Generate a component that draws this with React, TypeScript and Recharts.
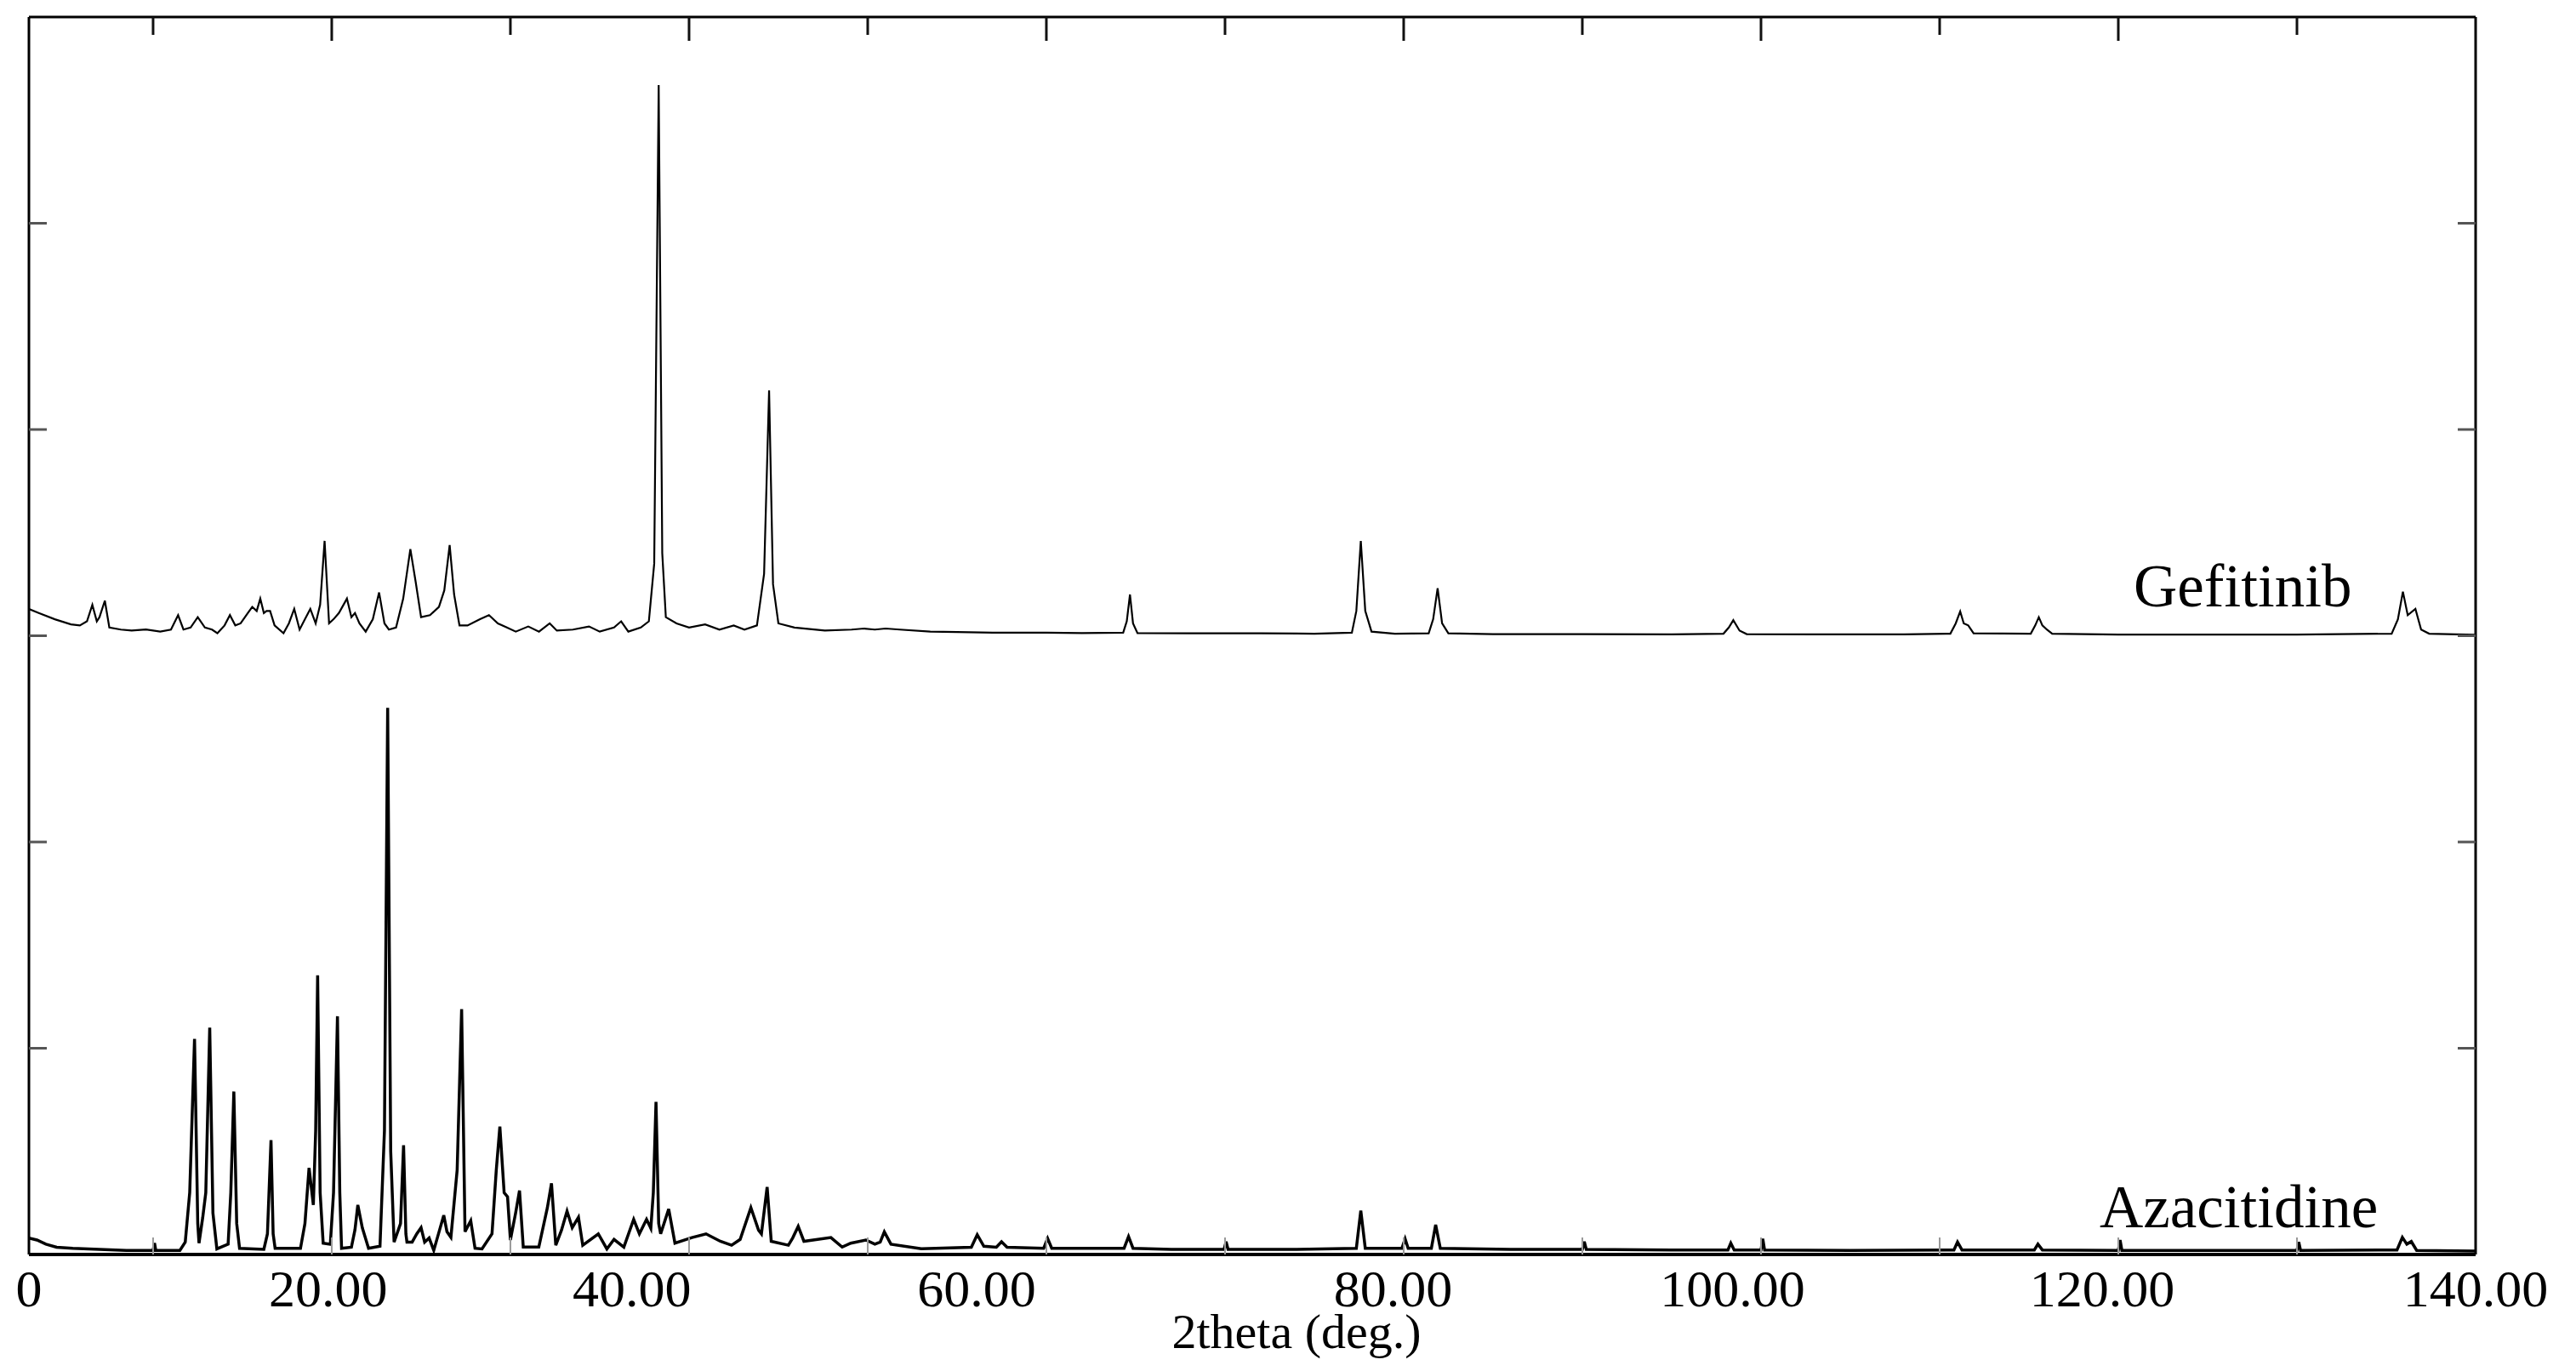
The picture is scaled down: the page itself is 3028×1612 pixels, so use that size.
import React from 'react';
import { LineChart, Line, XAxis, YAxis, ReferenceDot } from 'recharts';

// ---- data (2theta in deg, intensity in axis units) ----
const X_MIN = 3.05;
const X_MAX = 140;
const GEFITINIB_OFFSET = 3;

const gefitinibPattern: [number, number][] = [
  [3.05, 0.13], [3.6, 0.11], [4.5, 0.08], [5.4, 0.055], [5.9, 0.05], [6.3, 0.07], [6.6, 0.15], [6.85, 0.07],
  [7.0, 0.09], [7.3, 0.17], [7.55, 0.04], [8.2, 0.03], [8.8, 0.025], [9.6, 0.03], [10.4, 0.02], [11.0, 0.03],
  [11.4, 0.1], [11.7, 0.03], [12.1, 0.04], [12.5, 0.09], [12.9, 0.04], [13.3, 0.03], [13.6, 0.012], [14.0, 0.05],
  [14.3, 0.1], [14.6, 0.05], [14.9, 0.06], [15.3, 0.11], [15.55, 0.14], [15.8, 0.12], [16.0, 0.18], [16.2, 0.11],
  [16.35, 0.12], [16.55, 0.12], [16.8, 0.05], [17.3, 0.012], [17.6, 0.06], [17.9, 0.13], [18.2, 0.03], [18.5, 0.08],
  [18.8, 0.13], [19.1, 0.06], [19.35, 0.15], [19.6, 0.46], [19.85, 0.06], [20.1, 0.08], [20.4, 0.11], [20.85, 0.18],
  [21.1, 0.09], [21.3, 0.11], [21.55, 0.06], [21.9, 0.02], [22.3, 0.08], [22.65, 0.21], [22.95, 0.06], [23.2, 0.03],
  [23.6, 0.04], [24.0, 0.18], [24.4, 0.42], [24.7, 0.26], [25.0, 0.09], [25.5, 0.1], [26.0, 0.14], [26.3, 0.22],
  [26.6, 0.44], [26.85, 0.2], [27.15, 0.05], [27.6, 0.05], [28.3, 0.08], [28.8, 0.1], [29.3, 0.06], [29.8, 0.04],
  [30.3, 0.02], [31.0, 0.045], [31.6, 0.02], [32.2, 0.06], [32.6, 0.025], [33.5, 0.03], [34.4, 0.045], [35.0, 0.02],
  [35.8, 0.04], [36.2, 0.07], [36.6, 0.02], [37.3, 0.04], [37.75, 0.07], [38.05, 0.35], [38.3, 2.67], [38.5, 0.4],
  [38.7, 0.09], [39.3, 0.06], [40.0, 0.04], [40.9, 0.055], [41.7, 0.03], [42.5, 0.05], [43.1, 0.03], [43.8, 0.05],
  [44.2, 0.3], [44.48, 1.19], [44.7, 0.25], [45.0, 0.06], [45.9, 0.04], [47.6, 0.025], [49.1, 0.03], [49.8, 0.035],
  [50.4, 0.03], [51.0, 0.035], [51.8, 0.03], [53.5, 0.02], [55.0, 0.018], [57.0, 0.015], [60.0, 0.015], [62.0, 0.013],
  [64.3, 0.015], [64.5, 0.07], [64.68, 0.2], [64.85, 0.06], [65.1, 0.013], [68.0, 0.012], [72.0, 0.012], [75.0, 0.01],
  [77.1, 0.015], [77.35, 0.12], [77.6, 0.46], [77.85, 0.12], [78.2, 0.02], [79.5, 0.01], [81.4, 0.012], [81.65, 0.08],
  [81.9, 0.23], [82.15, 0.06], [82.5, 0.012], [85.0, 0.008], [90.0, 0.008], [95.0, 0.007], [97.9, 0.01], [98.2, 0.04],
  [98.45, 0.076], [98.8, 0.025], [99.2, 0.008], [103.0, 0.007], [108.0, 0.007], [110.6, 0.01], [110.9, 0.06],
  [111.15, 0.118], [111.35, 0.06], [111.6, 0.05], [111.9, 0.012], [115.1, 0.01], [115.35, 0.05], [115.55, 0.09],
  [115.75, 0.05], [116.0, 0.03], [116.3, 0.01], [120.0, 0.006], [125.0, 0.006], [130.0, 0.006], [135.3, 0.01],
  [135.65, 0.08], [135.93, 0.214], [136.2, 0.1], [136.63, 0.13], [136.95, 0.03], [137.4, 0.01], [140.0, 0.005],
];

const azacitidinePattern: [number, number][] = [
  [3.05, 0.08], [3.5, 0.07], [4.0, 0.05], [4.6, 0.035], [5.5, 0.03], [7.0, 0.025], [8.5, 0.02], [10.0, 0.02],
  [10.08, 0.055], [10.15, 0.02], [11.5, 0.02], [11.8, 0.06], [12.05, 0.3], [12.32, 1.045], [12.5, 0.15], [12.57, 0.055],
  [12.78, 0.18], [12.95, 0.3], [13.17, 1.1], [13.35, 0.2], [13.57, 0.027], [14.2, 0.05], [14.35, 0.3], [14.52, 0.79],
  [14.68, 0.15], [14.84, 0.03], [16.2, 0.025], [16.4, 0.1], [16.6, 0.554], [16.72, 0.1], [16.83, 0.03], [18.25, 0.03],
  [18.5, 0.15], [18.73, 0.42], [18.97, 0.24], [19.1, 0.6], [19.21, 1.354], [19.35, 0.3], [19.52, 0.055], [19.92, 0.05],
  [20.1, 0.3], [20.32, 1.155], [20.45, 0.3], [20.55, 0.03], [21.1, 0.035], [21.3, 0.12], [21.46, 0.24], [21.71, 0.13],
  [22.06, 0.03], [22.7, 0.04], [22.95, 0.6], [23.13, 2.65], [23.3, 0.5], [23.49, 0.06], [23.85, 0.15], [24.02, 0.53],
  [24.15, 0.1], [24.21, 0.06], [24.5, 0.06], [24.76, 0.1], [25.0, 0.13], [25.2, 0.06], [25.45, 0.08], [25.71, 0.02],
  [26.03, 0.117], [26.27, 0.19], [26.45, 0.11], [26.67, 0.083], [27.02, 0.41], [27.27, 1.19], [27.46, 0.11],
  [27.78, 0.164], [28.02, 0.03], [28.41, 0.027], [28.97, 0.1], [29.21, 0.41], [29.41, 0.62], [29.65, 0.3], [29.84, 0.28],
  [30.0, 0.07], [30.29, 0.2], [30.51, 0.31], [30.72, 0.036], [31.59, 0.036], [32.07, 0.227], [32.3, 0.345],
  [32.54, 0.045], [32.86, 0.118], [33.17, 0.21], [33.46, 0.13], [33.81, 0.18], [34.05, 0.045], [34.92, 0.1],
  [35.4, 0.027], [35.8, 0.073], [36.35, 0.036], [36.9, 0.17], [37.22, 0.1], [37.62, 0.17], [37.86, 0.127], [38.0, 0.3],
  [38.15, 0.74], [38.3, 0.15], [38.41, 0.1], [38.86, 0.22], [39.21, 0.055], [40.16, 0.082], [40.95, 0.1], [41.75, 0.064],
  [42.38, 0.045], [42.86, 0.073], [43.46, 0.227], [43.89, 0.118], [44.05, 0.1], [44.37, 0.327], [44.6, 0.064],
  [45.56, 0.045], [45.8, 0.08], [46.11, 0.136], [46.43, 0.064], [47.94, 0.082], [48.57, 0.036], [49.05, 0.055],
  [49.9, 0.07], [50.4, 0.05], [50.7, 0.06], [50.93, 0.11], [51.3, 0.05], [53.0, 0.028], [55.8, 0.035], [56.13, 0.096],
  [56.5, 0.04], [57.2, 0.035], [57.49, 0.062], [57.8, 0.035], [59.85, 0.03], [60.07, 0.078], [60.3, 0.03], [63.0, 0.03],
  [64.35, 0.03], [64.6, 0.087], [64.85, 0.03], [67.0, 0.025], [69.95, 0.025], [70.06, 0.062], [70.17, 0.025],
  [74.0, 0.025], [77.35, 0.03], [77.6, 0.213], [77.85, 0.03], [79.9, 0.03], [80.08, 0.076], [80.25, 0.03], [81.55, 0.03],
  [81.79, 0.144], [82.05, 0.03], [86.0, 0.025], [90.0, 0.025], [90.11, 0.062], [90.22, 0.025], [95.0, 0.022],
  [98.15, 0.022], [98.31, 0.055], [98.5, 0.022], [100.0, 0.022], [100.1, 0.076], [100.2, 0.022], [105.0, 0.02],
  [110.8, 0.022], [111.0, 0.06], [111.25, 0.022], [115.3, 0.022], [115.5, 0.05], [115.75, 0.022], [120.0, 0.02],
  [120.1, 0.07], [120.2, 0.02], [125.0, 0.02], [130.0, 0.02], [130.1, 0.06], [130.2, 0.02], [135.6, 0.022],
  [135.9, 0.083], [136.15, 0.05], [136.4, 0.063], [136.7, 0.02], [140.0, 0.017],
];

// tick labels and where they sit along the axis (as drawn in the reference)
const xLabelTexts = ['0', '20.00', '40.00', '60.00', '80.00', '100.00', '120.00', '140.00'];
const xLabelPositions = [3.05, 19.8, 36.8, 56.1, 79.4, 98.4, 119.1, 140];
const xFrameTicks = [10, 20, 30, 40, 50, 60, 70, 80, 90, 100, 110, 120, 130];
const yTicks = [1, 2, 3, 4, 5];
const Y_DOMAIN: [number, number] = [0, 6];

const seriesLabels = [
  { text: 'Gefitinib', x: 120.86, y: 3.144 },
  { text: 'Azacitidine', x: 118.95, y: 0.132 },
];

const FONT = '"Liberation Serif", "Times New Roman", serif';

const gefitinibData = gefitinibPattern.map(([a, v]) => ({ angle: a, y: v + GEFITINIB_OFFSET }));
const azacitidineData = azacitidinePattern.map(([a, v]) => ({ angle: a, y: v }));

const BottomLabelTick = (props: any) => {
  const { x, y, index } = props;
  return (
    <text x={x} y={y + 61} textAnchor="middle" fontFamily={FONT} fontSize={62} fill="#000">
      {xLabelTexts[index]}
    </text>
  );
};

// inward tick marks along the top edge: longer at every 20 degrees
const TopFrameTick = (props: any) => {
  const { x, y, payload } = props;
  const major = payload && payload.value % 20 === 0;
  return <line x1={x} x2={x} y1={y} y2={y + (major ? 28 : 21)} stroke="#111" strokeWidth={3} />;
};

// inward tick marks along the bottom edge
const BottomFrameTick = (props: any) => {
  const { x, y } = props;
  return <line x1={x} x2={x} y1={y} y2={y - 20} stroke="#999" strokeWidth={2} />;
};

const LeftFrameTick = (props: any) => {
  const { x, y } = props;
  return <line x1={x} x2={x + 21} y1={y} y2={y} stroke="#555" strokeWidth={3} />;
};

const RightFrameTick = (props: any) => {
  const { x, y } = props;
  return <line x1={x} x2={x - 21} y1={y} y2={y} stroke="#555" strokeWidth={3} />;
};

const AxisTitle = (props: any) => {
  const vb = props.viewBox || { x: 0, y: 0, width: 0 };
  return (
    <text x={1516} y={vb.y + 110} textAnchor="middle" fontFamily={FONT} fontSize={58} fill="#000">
      2theta (deg.)
    </text>
  );
};

const makeSeriesLabel = (text: string) => (props: any) => {
  const vb = props.viewBox || { x: 0, y: 0 };
  return (
    <text x={vb.x} y={vb.y} fontFamily={FONT} fontSize={71} fill="#000">
      {text}
    </text>
  );
};

export default function App() {
  return (
    <div style={{ width: 3012, height: 1596, background: '#fff' }}>
      <LineChart
        width={3012}
        height={1596}
        margin={{ top: 12, right: 110, bottom: 0, left: 26 }}
        style={{ fontFamily: FONT }}
      >
        <XAxis
          xAxisId="main"
          type="number"
          dataKey="angle"
          orientation="bottom"
          domain={[X_MIN, X_MAX]}
          allowDataOverflow
          ticks={xLabelPositions}
          interval={0}
          height={129}
          tickSize={0}
          tickMargin={0}
          tickLine={false}
          axisLine={false}
          tick={BottomLabelTick}
          label={{ content: AxisTitle }}
        />
        <XAxis
          xAxisId="frameBottom"
          type="number"
          dataKey="angle"
          orientation="bottom"
          mirror
          height={1}
          domain={[X_MIN, X_MAX]}
          allowDataOverflow
          ticks={xFrameTicks}
          interval={0}
          tickSize={0}
          tickMargin={0}
          tickLine={false}
          tick={BottomFrameTick}
          axisLine={{ stroke: '#000', strokeWidth: 4 }}
        />
        <XAxis
          xAxisId="frameTop"
          type="number"
          dataKey="angle"
          orientation="top"
          mirror
          height={1}
          domain={[X_MIN, X_MAX]}
          allowDataOverflow
          ticks={xFrameTicks}
          interval={0}
          tickSize={0}
          tickMargin={0}
          tickLine={false}
          tick={TopFrameTick}
          axisLine={{ stroke: '#000', strokeWidth: 3 }}
        />
        <YAxis
          yAxisId="left"
          type="number"
          orientation="left"
          mirror
          width={1}
          domain={Y_DOMAIN}
          allowDataOverflow
          ticks={yTicks}
          interval={0}
          tickSize={0}
          tickMargin={0}
          tickLine={false}
          tick={LeftFrameTick}
          axisLine={{ stroke: '#000', strokeWidth: 3 }}
        />
        <YAxis
          yAxisId="right"
          type="number"
          orientation="right"
          mirror
          width={1}
          domain={Y_DOMAIN}
          allowDataOverflow
          ticks={yTicks}
          interval={0}
          tickSize={0}
          tickMargin={0}
          tickLine={false}
          tick={RightFrameTick}
          axisLine={{ stroke: '#000', strokeWidth: 3 }}
        />
        <Line
          xAxisId="main"
          yAxisId="left"
          data={gefitinibData}
          dataKey="y"
          type="linear"
          dot={false}
          stroke="#000"
          strokeWidth={2.2}
          isAnimationActive={false}
        />
        <Line
          xAxisId="main"
          yAxisId="left"
          data={azacitidineData}
          dataKey="y"
          type="linear"
          dot={false}
          stroke="#000"
          strokeWidth={3.5}
          isAnimationActive={false}
        />
        {seriesLabels.map((s) => (
          <ReferenceDot
            key={s.text}
            xAxisId="main"
            yAxisId="left"
            x={s.x}
            y={s.y}
            r={0}
            fill="none"
            stroke="none"
            label={{ content: makeSeriesLabel(s.text) }}
          />
        ))}
      </LineChart>
    </div>
  );
}
